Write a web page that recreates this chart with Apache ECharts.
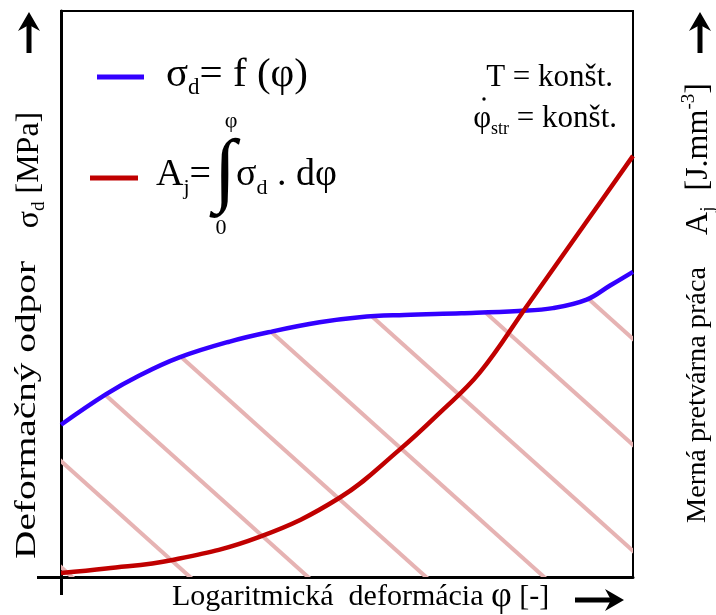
<!DOCTYPE html>
<html><head><meta charset="utf-8">
<script src="https://cdn.jsdelivr.net/npm/echarts@6/dist/echarts.min.js"></script>
<style>html,body{margin:0;padding:0;background:#fff}#c{width:716px;height:615px}</style>
</head><body><div id="c"></div>
<script>
// deformation φ (arbitrary 0..10) and deformation resistance σd
const phiBlue = [0, 0.79, 1.37, 2.07, 2.95, 3.70, 4.52, 5.22, 6.0, 7.0, 8.0, 8.6, 9.19, 9.6, 10];
const sigmaD  = [26.9, 32.3, 35.6, 38.8, 41.6, 43.4, 45.0, 45.9, 46.3, 46.6, 47.0, 47.5, 49.0, 51.5, 53.9];
// specific deformation work Aj
const phiRed  = [0, 0.79, 1.95, 3.47, 4.87, 5.92, 6.62, 7.32, 8.14, 9.19, 10];
const workAj  = [0.7, 1.5, 3.0, 7.1, 14.0, 22.5, 29.0, 36.1, 47.8, 62.8, 74.4];

const FONT = 'Liberation Serif';
function zip(a, b) { return a.map((v, i) => [v, b[i]]); }
function fitScale(text, size, target) {
  const g = document.createElement('canvas').getContext('2d');
  g.font = size + 'px "' + FONT + '"';
  return target / g.measureText(text).width;
}
function hatch() {
  const W = 118, H = 106, s = H / W, c = 19.7;
  const cv = document.createElement('canvas'); cv.width = W; cv.height = H;
  const g = cv.getContext('2d');
  g.strokeStyle = '#e6b3b3'; g.lineWidth = 4;
  for (const o of [c - W, c, c + W]) {
    g.beginPath(); g.moveTo(o - 20, -s * 20); g.lineTo(o + W + 20, H + s * 20); g.stroke();
  }
  return cv;
}
const BLUE = '#3300ff', RED = '#c00000';
const txt = (o) => Object.assign({ fill: '#000', fontFamily: FONT }, o);
const big = (size, lh) => ({ fontSize: size, lineHeight: lh, fontFamily: FONT });
const sub = (size, lh) => ({ fontSize: size, lineHeight: lh, verticalAlign: 'bottom', fontFamily: FONT });

const leftLbl = 'Deformačný odpor';
const rightLbl = 'Merná pretvárna práca';

const chart = echarts.init(document.getElementById('c'));
chart.setOption({
  animation: false,
  backgroundColor: '#fff',
  grid: { left: 61, right: 83, top: 11, bottom: 38, show: true, borderColor: '#000', borderWidth: 2 },
  xAxis: { type: 'value', min: 0, max: 10,
    axisLine: { show: true, lineStyle: { color: '#000', width: 3 } },
    axisTick: { show: false }, axisLabel: { show: false }, splitLine: { show: false } },
  yAxis: [
    { type: 'value', min: 0, max: 100,
      axisLine: { show: true, lineStyle: { color: '#000', width: 3 } },
      axisTick: { show: false }, axisLabel: { show: false }, splitLine: { show: false } },
    { type: 'value', min: 0, max: 100, position: 'right',
      axisLine: { show: false }, axisTick: { show: false }, axisLabel: { show: false }, splitLine: { show: false } }
  ],
  series: [
    { type: 'line', name: 'σd', data: zip(phiBlue, sigmaD), smooth: 0.4, symbol: 'none', z: 2,
      lineStyle: { color: BLUE, width: 4.5 },
      areaStyle: { color: { image: hatch(), repeat: 'repeat' }, opacity: 1 } },
    { type: 'line', name: 'Aj', yAxisIndex: 1, data: zip(phiRed, workAj), smooth: 0.4, symbol: 'none', z: 3,
      lineStyle: { color: RED, width: 4.5 } }
  ],
  graphic: [
    // axis extensions
    { type: 'line', shape: { x1: 37, y1: 577.5, x2: 62, y2: 577.5 }, style: { stroke: '#000', lineWidth: 3 } },
    { type: 'line', shape: { x1: 61.5, y1: 577, x2: 61.5, y2: 595 }, style: { stroke: '#000', lineWidth: 3 } },
    // arrows
    { type: 'line', shape: { x1: 29, y1: 22, x2: 29, y2: 53 }, style: { stroke: '#000', lineWidth: 5 } },
    { type: 'polygon', shape: { points: [[29, 12], [40, 31], [29, 25], [18, 31]] }, style: { fill: '#000' } },
    { type: 'line', shape: { x1: 700, y1: 22, x2: 700, y2: 53 }, style: { stroke: '#000', lineWidth: 5 } },
    { type: 'polygon', shape: { points: [[700, 12], [711, 31], [700, 25], [689, 31]] }, style: { fill: '#000' } },
    { type: 'line', shape: { x1: 575, y1: 600, x2: 614, y2: 600 }, style: { stroke: '#000', lineWidth: 5 } },
    { type: 'polygon', shape: { points: [[624, 600], [605, 589], [611, 600], [605, 611]] }, style: { fill: '#000' } },
    // legend samples
    { type: 'line', shape: { x1: 97, y1: 77, x2: 144, y2: 77 }, style: { stroke: BLUE, lineWidth: 5 } },
    { type: 'line', shape: { x1: 90, y1: 178, x2: 138, y2: 178 }, style: { stroke: RED, lineWidth: 5 } },
    // legend texts
    { type: 'text', x: 166, y: 75, style: txt({
      text: '{m|σ}{s|d}{m|= f (φ)}', verticalAlign: 'middle',
      rich: { m: big(41, 48), s: sub(23, 18) } }) },
    { type: 'text', x: 156, y: 175, style: txt({
      text: '{m|A}{s|j}{m|=}', verticalAlign: 'middle',
      rich: { m: big(38, 48), s: sub(22, 18) } }) },
    { type: 'text', x: 225, y: 174, style: txt({ text: '∫', fontSize: 82, align: 'center', verticalAlign: 'middle' }) },
    { type: 'text', x: 231, y: 121, style: txt({ text: 'φ', fontSize: 22, align: 'center', verticalAlign: 'middle' }) },
    { type: 'text', x: 221, y: 228, style: txt({ text: '0', fontSize: 22, align: 'center', verticalAlign: 'middle' }) },
    { type: 'text', x: 236, y: 175, style: txt({
      text: '{m|σ}{s|d}{m| . dφ}', verticalAlign: 'middle',
      rich: { m: big(38, 48), s: sub(22, 18) } }) },
    // conditions
    { type: 'text', x: 613, y: 78, style: txt({ text: 'T = konšt.', fontSize: 31, align: 'right', verticalAlign: 'middle' }) },
    { type: 'text', x: 617, y: 119, style: txt({
      text: '{m|φ}{s|str}{m| = konšt.}', align: 'right', verticalAlign: 'middle',
      rich: { m: big(31, 38), s: sub(18, 14) } }) },
    { type: 'circle', shape: { cx: 484, cy: 99, r: 1.7 }, style: { fill: '#000' } },
    // x axis title
    { type: 'text', x: 172, y: 597, style: txt({
      text: '{m|Logaritmická  deformácia }{p|φ}{m| [-]}', verticalAlign: 'middle',
      rich: { m: big(30, 38), p: big(36, 38) } }) },
    // left y titles
    { type: 'text', x: 27, y: 410, rotation: Math.PI / 2, scaleX: fitScale(leftLbl, 30, 298),
      style: txt({ text: leftLbl, fontSize: 30, align: 'center', verticalAlign: 'middle' }) },
    { type: 'text', x: 30, y: 170, rotation: Math.PI / 2, style: txt({
      text: '{m|σ}{s|d}{m| [MPa]}', align: 'center', verticalAlign: 'middle',
      rich: { m: big(32, 38), s: sub(19, 14) } }) },
    // right y titles
    { type: 'text', x: 698, y: 395, rotation: Math.PI / 2, scaleX: fitScale(rightLbl, 28, 256),
      style: txt({ text: rightLbl, fontSize: 28, align: 'center', verticalAlign: 'middle' }) },
    { type: 'text', x: 699, y: 159, rotation: Math.PI / 2, style: txt({
      text: '{m|A}{s|j}{m|  [J.mm}{u|-3}{m|]}', align: 'center', verticalAlign: 'middle',
      rich: { m: big(32, 38), s: sub(19, 14), u: { fontSize: 19, lineHeight: 16, verticalAlign: 'top', fontFamily: FONT } } }) }
  ]
});
</script></body></html>
